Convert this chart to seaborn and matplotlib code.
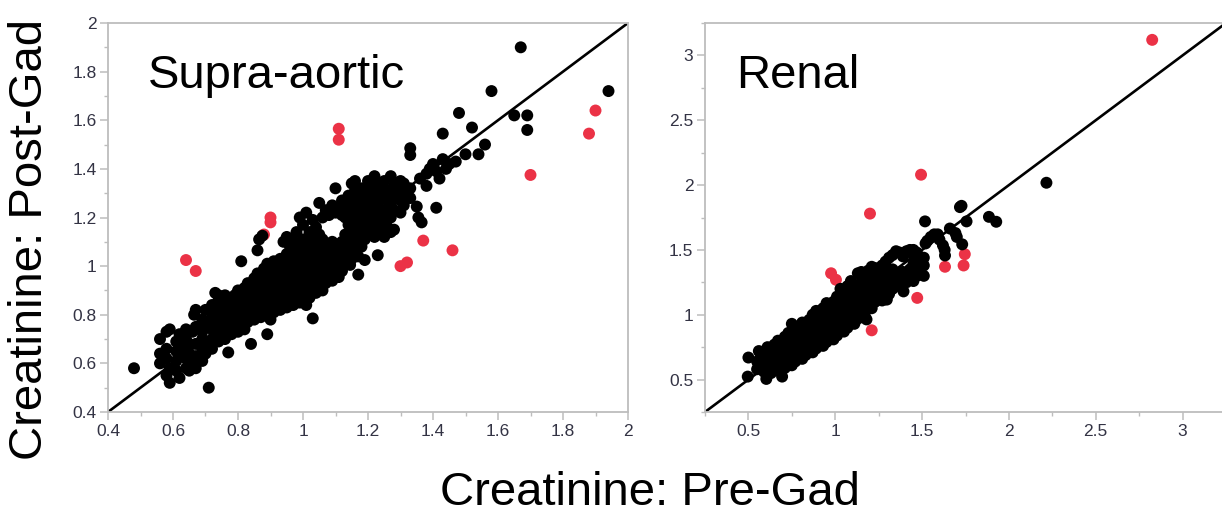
import matplotlib
matplotlib.use("Agg")
import matplotlib.pyplot as plt
import numpy as np
import pandas as pd
import seaborn as sns
from matplotlib.ticker import FixedLocator

# ---------------- data ----------------
supra_red = [(0.64, 1.025), (0.67, 0.98), (0.90, 1.20), (0.90, 1.18), (0.88, 1.13),
             (1.11, 1.565), (1.11, 1.52), (1.30, 1.00), (1.32, 1.015), (1.37, 1.105),
             (1.46, 1.065), (1.70, 1.375), (1.88, 1.545), (1.90, 1.64)]

supra_black_sparse = [(0.48, 0.58), (0.71, 0.50), (1.67, 1.90), (1.94, 1.72), (1.58, 1.72),
                      (1.48, 1.63), (1.52, 1.57), (1.43, 1.545), (1.65, 1.62), (1.69, 1.62),
                      (1.69, 1.56), (1.56, 1.50), (1.54, 1.46), (1.50, 1.46), (1.47, 1.43),
                      (1.33, 1.485), (1.33, 1.457), (1.41, 1.24), (1.35, 1.245), (1.355, 1.20),
                      (1.365, 1.18), (1.31, 1.34), (1.27, 1.37), (1.22, 1.37), (1.16, 1.35),
                      (1.10, 1.32), (1.05, 1.26), (1.28, 1.15), (1.23, 1.045), (1.17, 0.965),
                      (1.11, 0.955), (1.03, 0.785), (1.19, 1.025), (1.145, 1.005), (0.84, 0.68),
                      (0.77, 0.645), (0.89, 0.72), (0.90, 0.78), (0.81, 1.02), (0.86, 1.065),
                      (0.865, 1.11), (0.875, 1.125), (0.67, 0.82), (0.665, 0.80), (0.73, 0.89),
                      (1.38, 1.38), (1.40, 1.42), (1.41, 1.39), (1.42, 1.36), (1.43, 1.44),
                      (1.39, 1.40), (1.36, 1.36), (1.45, 1.42), (1.44, 1.40), (1.38, 1.33)]

supra_black_cols = {
    0.56: [0.60, 0.64, 0.70], 0.58: [0.55, 0.62, 0.66, 0.73], 0.59: [0.52, 0.58, 0.74],
    0.61: [0.57, 0.61, 0.65, 0.69], 0.62: [0.54, 0.63, 0.67, 0.72],
    0.64: [0.58, 0.62, 0.66, 0.70, 0.74], 0.65: [0.57, 0.64, 0.68],
    0.66: [0.60, 0.73], 0.67: [0.58, 0.63, 0.68, 0.75],
    0.69: [0.61, 0.66, 0.70, 0.73, 0.78], 0.70: [0.64, 0.68, 0.76, 0.82],
    0.72: [0.66, 0.70, 0.74, 0.79, 0.84], 0.73: [0.72, 0.77, 0.81],
    0.74: [0.69, 0.75, 0.86, 0.88], 0.75: [0.73, 0.78, 0.82, 0.85],
    0.76: [0.70, 0.76, 0.80, 0.84, 0.88], 0.77: [0.74, 0.79, 0.83],
    0.78: [0.72, 0.77, 0.81, 0.86], 0.79: [0.75, 0.79, 0.84, 0.88],
    0.80: [0.73, 0.78, 0.82, 0.86, 0.90], 0.81: [0.76, 0.80, 0.84, 0.88],
    0.82: [0.74, 0.79, 0.83, 0.87, 0.91], 0.83: [0.77, 0.81, 0.85, 0.89, 0.93],
    0.84: [0.80, 0.84, 0.88, 0.92], 0.85: [0.78, 0.82, 0.86, 0.90, 0.95],
    0.86: [0.81, 0.85, 0.89, 0.93, 0.97], 0.87: [0.79, 0.84, 0.88, 0.92, 0.96],
    0.88: [0.82, 0.86, 0.90, 0.94, 0.99], 0.89: [0.80, 0.85, 0.89, 0.93, 0.97, 1.01],
    0.90: [0.83, 0.87, 0.91, 0.95, 1.00], 0.91: [0.81, 0.86, 0.90, 0.94, 0.98, 1.02],
    0.92: [0.84, 0.88, 0.92, 0.96, 1.00], 0.93: [0.82, 0.87, 0.91, 0.95, 0.99, 1.03],
    0.94: [0.85, 0.89, 0.93, 0.97, 1.01, 1.10], 0.95: [0.83, 0.88, 0.92, 0.96, 1.00, 1.05, 1.12],
    0.96: [0.86, 0.90, 0.94, 0.98, 1.03, 1.08], 0.97: [0.84, 0.89, 0.93, 0.97, 1.01, 1.06, 1.10],
    0.98: [0.87, 0.91, 0.95, 0.99, 1.04, 1.14], 0.99: [0.85, 0.90, 0.94, 0.98, 1.02, 1.08, 1.20],
    1.00: [0.88, 0.92, 0.96, 1.00, 1.05, 1.11, 1.17], 1.01: [0.84, 0.90, 0.94, 0.99, 1.03, 1.09, 1.22],
    1.02: [0.87, 0.93, 0.97, 1.02, 1.07, 1.14], 1.03: [0.91, 0.96, 1.00, 1.05, 1.12, 1.19],
    1.04: [0.89, 0.94, 0.99, 1.04, 1.09, 1.16], 1.05: [0.92, 0.97, 1.01, 1.07, 1.13],
    1.06: [0.90, 0.95, 1.00, 1.05, 1.11, 1.20], 1.07: [0.93, 0.98, 1.03, 1.09, 1.23],
    1.08: [0.96, 1.01, 1.06, 1.21], 1.09: [0.94, 0.99, 1.04, 1.10, 1.25],
    1.10: [0.97, 1.02, 1.08, 1.22], 1.11: [1.00, 1.06, 1.24],
    1.12: [0.98, 1.04, 1.10, 1.21, 1.27], 1.13: [1.01, 1.07, 1.13, 1.20, 1.25],
    1.14: [1.05, 1.11, 1.17, 1.23, 1.29], 1.15: [1.03, 1.09, 1.15, 1.21, 1.27, 1.34],
    1.16: [1.06, 1.12, 1.19, 1.25, 1.31], 1.17: [1.04, 1.10, 1.16, 1.22, 1.29],
    1.18: [1.08, 1.14, 1.20, 1.26, 1.32], 1.19: [1.11, 1.17, 1.23, 1.30],
    1.20: [1.13, 1.19, 1.25, 1.28, 1.35], 1.21: [1.16, 1.22, 1.27, 1.33],
    1.22: [1.12, 1.18, 1.24, 1.30], 1.23: [1.15, 1.21, 1.26, 1.32],
    1.24: [1.14, 1.20, 1.28, 1.34], 1.25: [1.12, 1.18, 1.23, 1.29, 1.35],
    1.26: [1.16, 1.22, 1.27, 1.31], 1.27: [1.14, 1.20, 1.25, 1.30],
    1.28: [1.23, 1.28, 1.33], 1.30: [1.22, 1.27, 1.31, 1.35],
    1.31: [1.25, 1.29], 1.33: [1.28, 1.32],
}

renal_red = [(2.825, 3.12), (1.494, 2.08), (1.20, 1.78), (0.976, 1.32), (1.004, 1.27),
             (1.472, 1.13), (1.21, 0.88), (1.632, 1.37), (1.739, 1.38), (1.746, 1.467)]

renal_black_sparse = [(2.216, 2.018), (1.885, 1.755), (1.927, 1.717), (1.718, 1.83),
                      (1.727, 1.84), (1.756, 1.72), (1.517, 1.72), (1.66, 1.665),
                      (1.692, 1.63), (1.731, 1.543), (1.632, 1.457), (1.393, 1.18),
                      (1.297, 1.117), (1.244, 1.143), (1.18, 0.964), (0.496, 0.523),
                      (0.603, 0.505), (0.694, 0.523), (0.50, 0.67), (0.56, 0.72),
                      (1.53, 1.57), (1.55, 1.60), (1.57, 1.62), (1.59, 1.62), (1.60, 1.58),
                      (1.52, 1.55), (1.62, 1.535), (1.70, 1.60), (1.63, 1.50)]

renal_black_cols = {
    0.55: [0.58, 0.64], 0.57: [0.60, 0.66, 0.70], 0.59: [0.56, 0.62, 0.68],
    0.61: [0.58, 0.64, 0.71, 0.75], 0.63: [0.55, 0.61, 0.67, 0.73],
    0.65: [0.59, 0.65, 0.70, 0.77], 0.67: [0.57, 0.63, 0.68, 0.74, 0.80],
    0.69: [0.61, 0.66, 0.72, 0.78], 0.71: [0.59, 0.64, 0.70, 0.76, 0.83],
    0.73: [0.62, 0.68, 0.74, 0.80, 0.86], 0.75: [0.61, 0.66, 0.72, 0.78, 0.84, 0.93],
    0.77: [0.64, 0.70, 0.76, 0.82, 0.88], 0.79: [0.67, 0.73, 0.79, 0.85, 0.91],
    0.81: [0.66, 0.71, 0.77, 0.83, 0.89, 0.94], 0.83: [0.69, 0.75, 0.81, 0.87, 0.92],
    0.85: [0.72, 0.78, 0.84, 0.90, 0.96], 0.87: [0.71, 0.76, 0.82, 0.88, 0.94, 1.00],
    0.89: [0.74, 0.80, 0.86, 0.92, 0.98, 1.03], 0.91: [0.77, 0.83, 0.89, 0.95, 1.01],
    0.93: [0.76, 0.81, 0.87, 0.93, 0.99, 1.05], 0.95: [0.79, 0.85, 0.91, 0.97, 1.03, 1.09],
    0.97: [0.82, 0.88, 0.94, 1.00, 1.06], 0.99: [0.81, 0.86, 0.92, 0.98, 1.04, 1.10],
    1.01: [0.84, 0.90, 0.96, 1.02, 1.08, 1.14], 1.03: [0.88, 0.94, 1.00, 1.06, 1.12, 1.20],
    1.05: [0.87, 0.92, 0.98, 1.04, 1.10, 1.17], 1.07: [0.90, 0.96, 1.02, 1.08, 1.14, 1.22],
    1.09: [0.94, 1.00, 1.06, 1.12, 1.19, 1.26], 1.11: [0.93, 0.98, 1.04, 1.10, 1.16, 1.23],
    1.13: [0.97, 1.02, 1.08, 1.14, 1.21, 1.32], 1.15: [1.01, 1.06, 1.12, 1.18, 1.25, 1.33],
    1.17: [0.99, 1.04, 1.10, 1.16, 1.22, 1.28], 1.19: [1.07, 1.14, 1.20, 1.27, 1.34],
    1.21: [1.05, 1.12, 1.18, 1.24, 1.31, 1.37], 1.23: [1.10, 1.16, 1.22, 1.29, 1.36],
    1.25: [1.14, 1.20, 1.26, 1.33], 1.27: [1.11, 1.18, 1.24, 1.30, 1.38],
    1.29: [1.12, 1.21, 1.28, 1.35, 1.41], 1.31: [1.16, 1.24, 1.32, 1.44],
    1.33: [1.20, 1.27, 1.35, 1.46], 1.35: [1.25, 1.31, 1.49], 1.37: [1.22, 1.29, 1.48],
    1.39: [1.27, 1.33, 1.45], 1.41: [1.25, 1.31, 1.49], 1.43: [1.28, 1.35, 1.50],
    1.45: [1.26, 1.33, 1.39, 1.46, 1.50], 1.47: [1.30, 1.37, 1.44, 1.48],
    1.49: [1.35, 1.41], 1.51: [1.30, 1.38, 1.44],
}

supra_xticks = [0.4, 0.6, 0.8, 1.0, 1.2, 1.4, 1.6, 1.8, 2.0]
supra_ticklabels = ["0.4", "0.6", "0.8", "1", "1.2", "1.4", "1.6", "1.8", "2"]
supra_minor = [0.5, 0.7, 0.9, 1.1, 1.3, 1.5, 1.7, 1.9]
renal_ticks = [0.5, 1.0, 1.5, 2.0, 2.5, 3.0]
renal_ticklabels = ["0.5", "1", "1.5", "2", "2.5", "3"]
renal_minor = [0.25, 0.75, 1.25, 1.75, 2.25, 2.75, 3.25]

RED = "#EB3246"
GREY = "#BDBDBD"
TICKTXT = "#333344"


def build(red, sparse, cols):
    rows = [(x, y, "out") for x, y in red]
    rows += [(x, y, "in") for x, y in sparse]
    for x, ys in cols.items():
        rows += [(x, y, "in") for y in ys]
    return pd.DataFrame(rows, columns=["pre", "post", "grp"])


df_supra = build(supra_red, supra_black_sparse, supra_black_cols)
df_renal = build(renal_red, renal_black_sparse, renal_black_cols)

sns.set_style("white")
plt.rcParams["font.family"] = ["Liberation Sans", "DejaVu Sans"]

W, H = 1222, 514
fig = plt.figure(figsize=(W / 100, H / 100), dpi=100)
ax1 = fig.add_axes([108 / W, 102 / H, 520 / W, 389 / H])
ax2 = fig.add_axes([705 / W, 102 / H, 521 / W, 389 / H])

for ax, df, lim in [(ax1, df_supra, (0.4, 2.0)), (ax2, df_renal, (0.25, 3.25))]:
    ax.axline((lim[0], lim[0]), (lim[1], lim[1]), color="black", lw=1.9, zorder=2)
    sns.scatterplot(data=df, x="pre", y="post", hue="grp",
                    palette={"out": RED, "in": "black"}, s=74, linewidth=0,
                    legend=False, ax=ax, zorder=3)
    ax.set_xlim(*lim)
    ax.set_ylim(*lim)
    ax.set_xlabel("")
    ax.set_ylabel("")
    for sp in ax.spines.values():
        sp.set_color(GREY)
        sp.set_linewidth(1.3)
    ax.tick_params(which="major", direction="out", length=5.8, width=1.1, color=GREY,
                   labelsize=12.5, labelcolor=TICKTXT, pad=2.5,
                   left=True, bottom=True, top=False, right=False)
    ax.tick_params(which="minor", direction="out", length=3.0, width=1.0, color=GREY,
                   left=True, bottom=True, top=False, right=False)

ax1.xaxis.set_major_locator(FixedLocator(supra_xticks))
ax1.yaxis.set_major_locator(FixedLocator(supra_xticks))
ax1.set_xticklabels(supra_ticklabels)
ax1.set_yticklabels(supra_ticklabels)
ax1.xaxis.set_minor_locator(FixedLocator(supra_minor))
ax1.yaxis.set_minor_locator(FixedLocator(supra_minor))

ax2.xaxis.set_major_locator(FixedLocator(renal_ticks))
ax2.yaxis.set_major_locator(FixedLocator(renal_ticks))
ax2.set_xticklabels(renal_ticklabels)
ax2.set_yticklabels(renal_ticklabels)
ax2.xaxis.set_minor_locator(FixedLocator(renal_minor))
ax2.yaxis.set_minor_locator(FixedLocator(renal_minor))

for ax in (ax1, ax2):
    for lab in ax.get_xticklabels() + ax.get_yticklabels():
        lab.set_fontfamily(["Liberation Sans Narrow", "Liberation Sans", "DejaVu Sans"])

ax1.text((148 - 108) / 520, (412 - 76) / 389, "Supra-aortic", transform=ax1.transAxes,
         fontsize=34, ha="left", va="center", color="black")
ax2.text((736 - 705) / 521, (412 - 76) / 389, "Renal", transform=ax2.transAxes,
         fontsize=34, ha="left", va="center", color="black")

fig.text(30 / W, 1 - 240 / H, "Creatinine: Post-Gad", rotation=90, fontsize=34,
         ha="center", va="center", color="black")
fig.text(650 / W, 1 - 493 / H, "Creatinine: Pre-Gad", fontsize=34,
         ha="center", va="center", color="black")

fig.savefig("out.png", dpi=100)
